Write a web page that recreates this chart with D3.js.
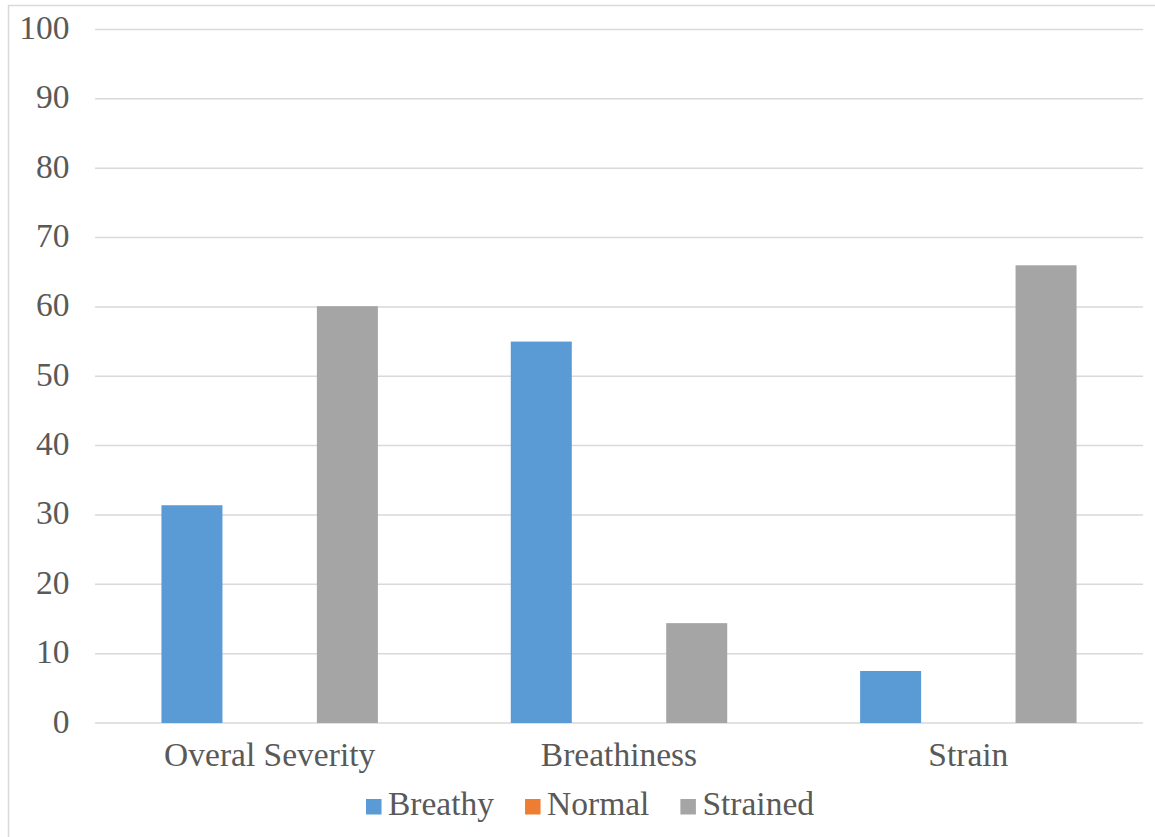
<!DOCTYPE html>
<html>
<head>
<meta charset="utf-8">
<script src="https://cdn.jsdelivr.net/npm/d3@7"></script>
<style>
  html, body { margin: 0; padding: 0; background: #fff; }
  svg { display: block; }
</style>
</head>
<body>
<svg id="chart" width="1155" height="837"></svg>
<script>
// Ratings per dimension, grouped by voice type
const categories = ["Overal Severity", "Breathiness", "Strain"];
const seriesNames = ["Breathy", "Normal", "Strained"];
const breathy = [31.4, 55.0, 7.5];
const normal = [0, 0, 0];
const strained = [60.1, 14.4, 66.0];
const yTicks = [0, 10, 20, 30, 40, 50, 60, 70, 80, 90, 100];
const colors = ["#5B9BD5", "#ED7D31", "#A5A5A5"];
const fontStack = "\"Liberation Serif\", \"Times New Roman\", serif";
const fontSize = "33.5px";
const textColor = "#595959";

const seriesValues = [breathy, normal, strained];
const rows = categories.map((c, i) => ({
  category: c,
  values: seriesNames.map((s, j) => ({ series: s, value: seriesValues[j][i] }))
}));

const svg = d3.select("#chart");
const plot = { left: 95, right: 1143, top: 29.5, bottom: 723 };

// chart frame
svg.append("rect")
  .attr("x", 8.5).attr("y", 5.5)
  .attr("width", 1200).attr("height", 900)
  .attr("fill", "none").attr("stroke", "#d9d9d9").attr("stroke-width", 1.5);

const y = d3.scaleLinear().domain([0, 100]).range([plot.bottom, plot.top]);
const x0 = d3.scaleBand().domain(categories).range([plot.left, plot.right]).padding(0);
const x1 = d3.scaleBand().domain(seriesNames).range([0, x0.bandwidth()])
  .paddingInner(0.215).paddingOuter(0.855);

// gridlines
svg.append("g").selectAll("line").data(yTicks).join("line")
  .attr("x1", plot.left).attr("x2", plot.right)
  .attr("y1", d => y(d)).attr("y2", d => y(d))
  .attr("stroke", "#d9d9d9").attr("stroke-width", 1.5);

function styleText(sel) {
  sel.style("font-family", fontStack)
    .style("font-size", fontSize)
    .style("fill", textColor);
}

// y tick labels
const yAxis = svg.append("g")
  .attr("transform", "translate(69.5,0)")
  .call(d3.axisLeft(y).tickValues(yTicks).tickSize(0).tickPadding(0));
yAxis.attr("font-family", null).attr("font-size", null);
yAxis.select(".domain").remove();
yAxis.selectAll("text").call(styleText).attr("dy", "0.27em");

// bars
const groups = svg.append("g").selectAll("g").data(rows).join("g")
  .attr("transform", d => `translate(${x0(d.category)},0)`);
groups.selectAll("rect").data(d => d.values).join("rect")
  .attr("x", d => x1(d.series))
  .attr("width", x1.bandwidth())
  .attr("y", d => y(d.value))
  .attr("height", d => y(0) - y(d.value))
  .attr("fill", (d, i) => colors[i]);

// category labels
const xAxis = svg.append("g")
  .attr("transform", `translate(0,${plot.bottom})`)
  .call(d3.axisBottom(x0).tickSize(0).tickPadding(0));
xAxis.attr("font-family", null).attr("font-size", null);
xAxis.select(".domain").remove();
xAxis.selectAll("text").call(styleText).attr("y", 43).attr("dy", 0);

// legend
const legend = svg.append("g").attr("transform", "translate(366,0)");
let lx = 0;
seriesNames.forEach((s, i) => {
  const g = legend.append("g").attr("transform", `translate(${lx},0)`);
  g.append("rect").attr("x", 0).attr("y", 799).attr("width", 15.5).attr("height", 15.5)
    .attr("fill", colors[i]);
  const t = g.append("text").attr("x", 22).attr("y", 815).call(styleText).text(s);
  lx += 22 + t.node().getComputedTextLength() + 31;
});
</script>
</body>
</html>
